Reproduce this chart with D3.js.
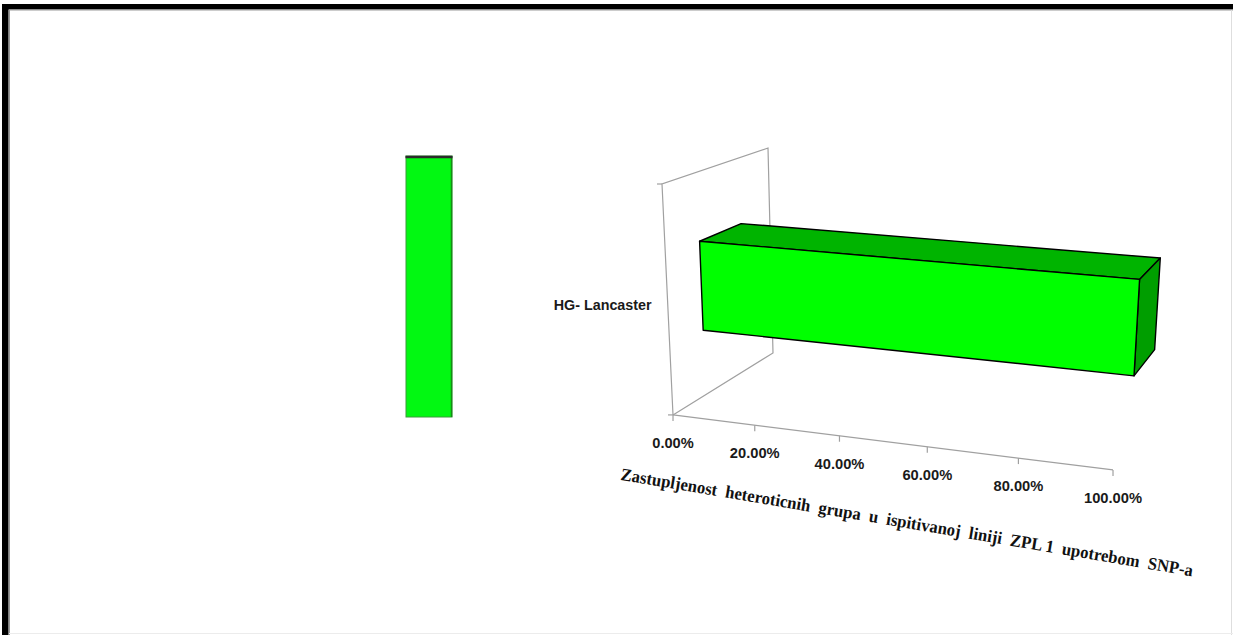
<!DOCTYPE html>
<html><head><meta charset="utf-8">
<script src="https://cdn.jsdelivr.net/npm/d3@7"></script>
<style>html,body{margin:0;padding:0;background:#fff;overflow:hidden}</style>
</head><body>
<svg id="chart" width="1233" height="635"></svg>
<script>
// ---- data ----
const categories = ["HG- Lancaster"];
const values = [1.0];
const valueTicks = [0, 0.2, 0.4, 0.6, 0.8, 1.0];
const axisTitle = "Zastupljenost  heteroticnih  grupa  u  ispitivanoj  liniji  ZPL 1  upotrebom  SNP-a";

// ---- plot box (value, category, depth) corners on screen, used to solve the perspective camera ----
const boxAnchors = [
  [[0, 0, 0], [673, 415]],
  [[1, 0, 0], [1113, 470]],
  [[0.5, 0, 0], [883, 441]],
  [[0, 1, 0], [662, 184]],
  [[0, 1, 1], [768, 148]],
  [[0, 0, 1], [773, 353]]
];

// Solve a 3x4 projective camera (last entry fixed to 1) by least squares.
function solveCamera(pairs) {
  const cx = 900, cy = 300, s = 300;
  const A = [], b = [];
  pairs.forEach(([[X, Y, Z], [sx, sy]]) => {
    const u = (sx - cx) / s, v = (sy - cy) / s;
    A.push([X, Y, Z, 1, 0, 0, 0, 0, -u * X, -u * Y, -u * Z]); b.push(u);
    A.push([0, 0, 0, 0, X, Y, Z, 1, -v * X, -v * Y, -v * Z]); b.push(v);
  });
  const n = 11;
  const M = [];
  for (let i = 0; i < n; i++) {
    const row = [];
    for (let j = 0; j < n; j++) {
      let sum = 0;
      for (let k = 0; k < A.length; k++) sum += A[k][i] * A[k][j];
      row.push(sum + (i === j ? 1e-9 : 0));
    }
    let rhs = 0;
    for (let k = 0; k < A.length; k++) rhs += A[k][i] * b[k];
    row.push(rhs);
    M.push(row);
  }
  for (let c = 0; c < n; c++) {
    let p = c;
    for (let r = c + 1; r < n; r++) if (Math.abs(M[r][c]) > Math.abs(M[p][c])) p = r;
    [M[c], M[p]] = [M[p], M[c]];
    for (let r = 0; r < n; r++) {
      if (r === c) continue;
      const f = M[r][c] / M[c][c];
      for (let k = c; k <= n; k++) M[r][k] -= f * M[c][k];
    }
  }
  const P = M.map((row, i) => row[n] / row[i]);
  return ([X, Y, Z]) => {
    const w = P[8] * X + P[9] * Y + P[10] * Z + 1;
    return [
      ((P[0] * X + P[1] * Y + P[2] * Z + P[3]) / w) * s + cx,
      ((P[4] * X + P[5] * Y + P[6] * Z + P[7]) / w) * s + cy
    ];
  };
}
const project = solveCamera(boxAnchors);

// ---- scales ----
const xScale = d3.scaleLinear().domain([0, 1]).range([0, 1]);              // value -> box X
const yBand = d3.scaleBand().domain(categories).range([0, 1])
  .paddingInner(0).paddingOuter(0.75);                                     // category -> box Y
const zBand = d3.scaleBand().domain(["ZPL 1"]).range([0, 1])
  .paddingInner(0).paddingOuter(0.75);                                     // series -> box depth
const pct = d3.format(".2%");

const svg = d3.select("#chart");
const pathOf = pts => "M" + pts.map(p => project(p).join(",")).join("L") + "Z";
const lineOf = pts => "M" + pts.map(p => project(p).join(",")).join("L");

// ---- page frame ----
svg.append("rect").attr("x", 0).attr("y", 0).attr("width", 1233).attr("height", 635).attr("fill", "#fff");
svg.append("rect").attr("x", 2).attr("y", 4).attr("width", 1231).attr("height", 5.5).attr("fill", "#000");
svg.append("rect").attr("x", 2).attr("y", 4).attr("width", 6.5).attr("height", 631).attr("fill", "#000");
svg.append("line").attr("x1", 9).attr("x2", 1233).attr("y1", 10).attr("y2", 10).attr("stroke", "#9a9a9a").attr("stroke-width", 1);
svg.append("line").attr("x1", 9.5).attr("x2", 9.5).attr("y1", 10).attr("y2", 635).attr("stroke", "#9a9a9a").attr("stroke-width", 1);
svg.append("line").attr("x1", 1231.5).attr("x2", 1231.5).attr("y1", 10).attr("y2", 635).attr("stroke", "#dedede").attr("stroke-width", 1);
svg.append("line").attr("x1", 9).attr("x2", 1233).attr("y1", 633.5).attr("y2", 633.5).attr("stroke", "#ececec").attr("stroke-width", 1);

// ---- flat bar on the left ----
const flatScale = d3.scaleLinear().domain([0, 1]).range([417, 156]);
const flat = svg.append("g");
values.forEach(v => {
  flat.append("rect").attr("x", 406).attr("width", 46)
    .attr("y", flatScale(v)).attr("height", flatScale(0) - flatScale(v))
    .attr("fill", "#02f812").attr("stroke", "#3c9a3c").attr("stroke-width", 1);
  flat.append("line").attr("x1", 451.5).attr("x2", 451.5)
    .attr("y1", flatScale(v)).attr("y2", flatScale(0))
    .attr("stroke", "#168c16").attr("stroke-width", 1.5);
  flat.append("line").attr("x1", 405.5).attr("x2", 452.5)
    .attr("y1", flatScale(v) + 1).attr("y2", flatScale(v) + 1)
    .attr("stroke", "#2b2b2b").attr("stroke-width", 2.5);
});

// ---- walls ----
const walls = svg.append("g").attr("fill", "none").attr("stroke", "#a0a0a0").attr("stroke-width", 1.2);
walls.append("path").attr("d", lineOf([[0, 0, 0], [0, 1, 0], [0, 1, 1], [0, 0, 1], [0, 0, 0]]));
walls.append("path").attr("d", lineOf([[0, 0, 0], [1, 0, 0]]));

// category axis ticks
[0, 1].forEach(t => {
  const [px, py] = project([0, t, 0]);
  walls.append("line").attr("x1", px - 5).attr("x2", px).attr("y1", py).attr("y2", py);
});

// value axis ticks and labels
valueTicks.forEach(t => {
  const [px, py] = project([xScale(t), 0, 0]);
  walls.append("line").attr("x1", px).attr("x2", px).attr("y1", py).attr("y2", py + 6);
  svg.append("text").attr("x", px).attr("y", py + 33)
    .attr("text-anchor", "middle")
    .attr("font-family", "Liberation Sans, Arial, sans-serif")
    .attr("font-weight", "bold").attr("font-size", 14.5).attr("fill", "#1a1a1a")
    .attr("textLength", pct(t).length * 8.3).attr("lengthAdjust", "spacingAndGlyphs")
    .text(pct(t));
});

// category label
categories.forEach(c => {
  const [px, py] = project([0, yBand(c) + yBand.bandwidth() / 2, 0]);
  svg.append("text").attr("x", px - 16).attr("y", py + 8)
    .attr("text-anchor", "end")
    .attr("font-family", "Liberation Sans, Arial, sans-serif")
    .attr("font-weight", "bold").attr("font-size", 14.5).attr("fill", "#1a1a1a")
    .attr("textLength", 98).attr("lengthAdjust", "spacingAndGlyphs")
    .text(c);
});

// ---- 3D bars ----
const bars = svg.append("g").attr("stroke", "#000").attr("stroke-width", 1.4).attr("stroke-linejoin", "round");
categories.forEach((c, i) => {
  const X0 = xScale(0), X1 = xScale(values[i]);
  const Y0 = yBand(c), Y1 = yBand(c) + yBand.bandwidth();
  const Z0 = zBand("ZPL 1"), Z1 = zBand("ZPL 1") + zBand.bandwidth();
  bars.append("path").attr("fill", "#00b400")
    .attr("d", pathOf([[X0, Y1, Z0], [X1, Y1, Z0], [X1, Y1, Z1], [X0, Y1, Z1]]));
  bars.append("path").attr("fill", "#009e00")
    .attr("d", pathOf([[X1, Y0, Z0], [X1, Y0, Z1], [X1, Y1, Z1], [X1, Y1, Z0]]));
  bars.append("path").attr("fill", "#00ff00")
    .attr("d", pathOf([[X0, Y0, Z0], [X1, Y0, Z0], [X1, Y1, Z0], [X0, Y1, Z0]]));
});

// ---- value axis title, following the axis direction ----
svg.append("text")
  .attr("transform", "translate(906,528) rotate(9.6)")
  .attr("text-anchor", "middle")
  .attr("font-family", "Liberation Serif, Times New Roman, serif")
  .attr("font-weight", "bold").attr("font-size", 17.5).attr("fill", "#111")
  .attr("textLength", 580).attr("lengthAdjust", "spacingAndGlyphs")
  .style("white-space", "pre")
  .text(axisTitle);
</script>
</body></html>
